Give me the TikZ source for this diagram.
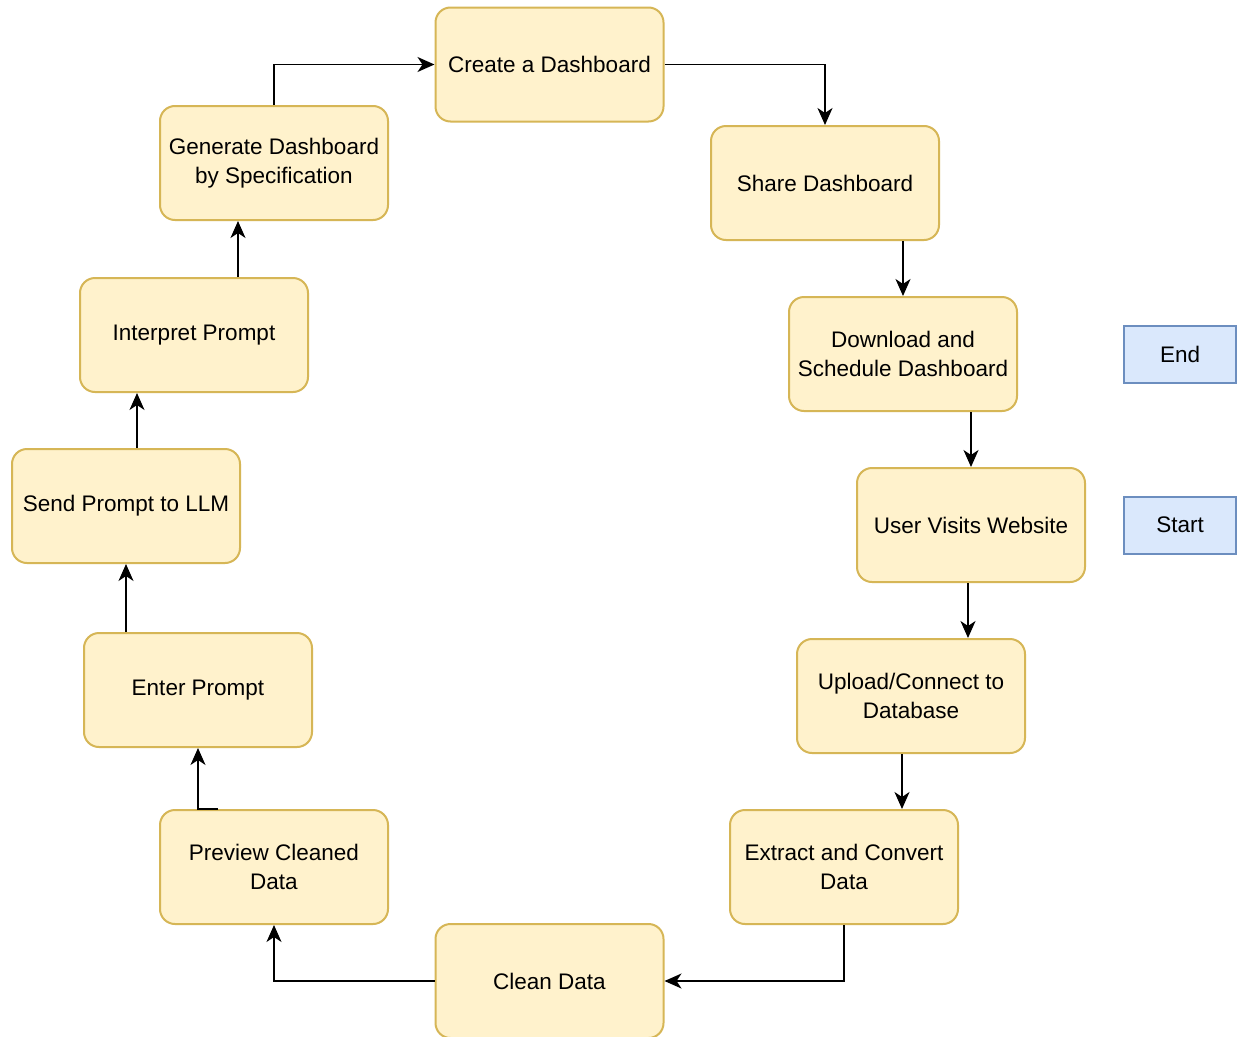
\documentclass[tikz,border=0pt]{standalone}
\usepackage{fontspec}
\setmainfont{Liberation Sans}
\usetikzlibrary{arrows.meta,calc}
\definecolor{yfill}{HTML}{FFF2CC}
\definecolor{ydraw}{HTML}{D6B656}
\definecolor{bfill}{HTML}{DAE8FC}
\definecolor{bdraw}{HTML}{6C8EBF}
\tikzset{
  stepbox/.style={draw=ydraw, fill=yfill, line width=2pt, rounded corners=15pt,
    minimum width=228pt, minimum height=114pt, align=center, inner sep=0pt,
    font=\fontsize{22.5}{29}\selectfont},
  termbox/.style={draw=bdraw, fill=bfill, line width=2pt,
    minimum width=112pt, minimum height=57pt, align=center, inner sep=0pt,
    font=\fontsize{22.5}{29}\selectfont},
  conn/.style={line width=1.8pt, -{Stealth[length=17pt,width=15pt,inset=5pt]}}
}
\begin{document}
\begin{tikzpicture}[x=1pt,y=-1pt]
\useasboundingbox[fill=white] (0,0) rectangle (1238,1036);
\begin{scope}
\clip (0,0) rectangle (1238,1036);
\node[stepbox] (create) at (549.5,64.5) {Create a Dashboard};
\node[stepbox] (share) at (825,183) {Share Dashboard};
\node[stepbox] (download) at (903,354) {Download and\\Schedule Dashboard};
\node[stepbox] (visit) at (971,525) {User Visits Website};
\node[stepbox] (upload) at (911,696) {Upload/Connect to\\Database};
\node[stepbox] (extract) at (844,867) {Extract and Convert\\Data};
\node[stepbox] (clean) at (549.5,981) {Clean Data};
\node[stepbox] (preview) at (274,867) {Preview Cleaned\\Data};
\node[stepbox] (enter) at (198,690) {Enter Prompt};
\node[stepbox] (sendp) at (126,506) {Send Prompt to LLM};
\node[stepbox] (interp) at (194,335) {Interpret Prompt};
\node[stepbox] (gen) at (274,163) {Generate Dashboard\\by Specification};
\node[termbox] (endn) at (1180,354) {End};
\node[termbox] (startn) at (1180,525) {Start};

\draw[conn] (gen.north) |- (create.west);
\draw[conn] (create.east) -| (share.north);
\draw[conn] ($(download.north |- share.south)$) -- (download.north);
\draw[conn] ($(visit.north |- download.south)$) -- (visit.north);
\draw[conn] ([xshift=-3pt]visit.south) -- ([xshift=-3pt]visit.south |- upload.north);
\draw[conn] ([xshift=-9pt]upload.south) -- ([xshift=-9pt]upload.south |- extract.north);
\draw[conn] (extract.south) |- (clean.east);
\draw[conn] (clean.west) -| (preview.south);
\draw[conn] ([xshift=-56pt]preview.north) -- (preview.north -| enter.south) -- (enter.south);
\draw[conn] ($(sendp.south |- enter.north)$) -- (sendp.south);
\draw[conn] ([xshift=11pt]sendp.north) -- ([xshift=11pt]sendp.north |- interp.south);
\draw[conn] ([xshift=44pt]interp.north) -- ([xshift=44pt]interp.north |- gen.south);
\end{scope}
\end{tikzpicture}
\end{document}
